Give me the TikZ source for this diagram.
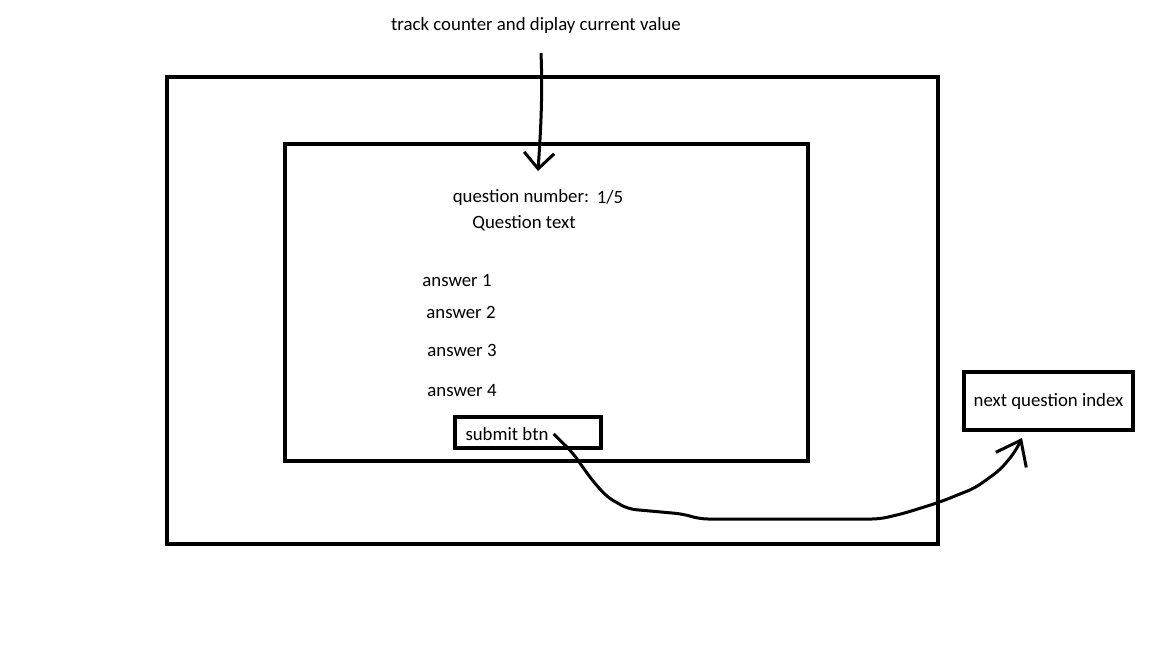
\documentclass[tikz,border=0pt]{standalone}
\usepackage{fontspec}
\setmainfont{Carlito}
\usepackage{tikz}
\usetikzlibrary{arrows.meta,fit}

\begin{document}
\begin{tikzpicture}[every node/.style={font=\fontsize{18.8bp}{22bp}\selectfont,inner sep=0pt}]
\useasboundingbox (0bp,0bp) rectangle (1152bp,-648bp);

\node (outer) [draw,line width=4bp,fit={(167bp,-77bp) (938bp,-544bp)}] {};
\node (inner) [draw,line width=4bp,fit={(285bp,-144bp) (808bp,-461bp)}] {};
\node (btn) [draw,line width=4bp,fit={(455bp,-417bp) (601bp,-448bp)}] {};
\node (next) at (1048.5bp,-401bp) [draw,line width=4bp,minimum width=169bp,minimum height=58bp] {next question index};

\node (track) at (536bp,-25bp) {track counter and diplay current value};
\node (qnum) at (521bp,-197bp) {question number:};
\node (qval) at (610bp,-197bp) {1/5};
\node (qtext) at (524bp,-223bp) {Question text};
\node (ans1) at (457bp,-281bp) {answer 1};
\node (ans2) at (461bp,-312bp) {answer 2};
\node (ans3) at (462bp,-350bp) {answer 3};
\node (ans4) at (462bp,-391bp) {answer 4};
\node (submit) at (507bp,-434bp) {submit btn};

\coordinate (cstart) at (541bp,-53bp);
\coordinate (ctip) at (538bp,-171bp);
\coordinate (ntip) at (1022bp,-438bp);

\draw [-{Straight Barb[length=16bp,width=30bp]},line width=3bp] (cstart) .. controls (543bp,-100bp) and (540bp,-140bp) .. (ctip);
\draw [-{Straight Barb[length=22bp,width=34bp]},line width=3bp,rounded corners=8bp]
  ([xshift=5bp]submit.east) -- (572bp,-452bp) -- (592bp,-480bp) -- (607bp,-497bp) -- (628bp,-509bp)
  -- (683bp,-514bp) -- (700bp,-519bp) -- (880bp,-519bp) -- (905bp,-513bp) -- (940bp,-502bp)
  -- (975bp,-488bp) -- (1000bp,-470bp) -- (1015bp,-452bp) -- (ntip);
\end{tikzpicture}
\end{document}
